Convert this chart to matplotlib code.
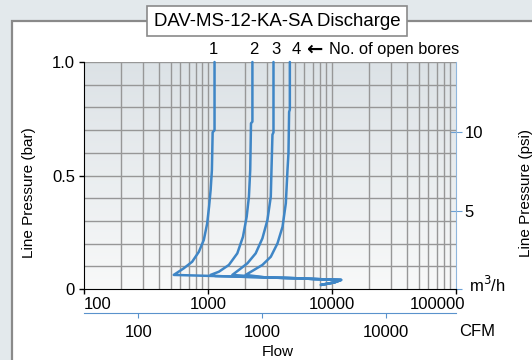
import numpy as np
import matplotlib.pyplot as plt
from matplotlib.patches import Rectangle
from matplotlib.colors import LinearSegmentedColormap

plt.rcParams['font.family'] = ['Liberation Sans', 'DejaVu Sans']

# flow in m3/h, line pressure in bar
bores = ['1', '2', '3', '4']
flow_1 = [1129, 1129, 1090, 1075, 1050, 1020, 985, 925, 844, 745, 637, 529]
bar_1 = [1.0, 0.70, 0.69, 0.524, 0.436, 0.363, 0.289, 0.216, 0.164, 0.120,
         0.091, 0.062]
flow_2 = [2281, 2281, 2222, 2190, 2138, 2051, 1914, 1723, 1474, 1223, 1048]
bar_2 = [1.0, 0.737, 0.73, 0.524, 0.407, 0.319, 0.230, 0.157, 0.106, 0.076,
         0.062]
flow_3 = [3374, 3374, 3310, 3250, 3209, 3015, 2746, 2424, 2077, 1775, 1570]
bar_3 = [1.0, 0.69, 0.68, 0.524, 0.407, 0.304, 0.223, 0.157, 0.113, 0.084,
         0.062]
flow_4 = [4571, 4571, 4510, 4456, 4375, 4243, 3990, 3634, 3209, 2746, 2350,
          2012]
bar_4 = [1.0, 0.79, 0.78, 0.598, 0.524, 0.378, 0.274, 0.201, 0.142, 0.106,
         0.084, 0.062]
# common low-pressure tail all curves run into
tail_flow = [1151, 2924, 5433, 7194, 11830, 10440, 8150]
tail_bar = [0.057, 0.051, 0.047, 0.044, 0.040, 0.029, 0.018]
label_flow = [1109, 2350, 3524, 5107]

xticks = [100, 1000, 10000, 100000]
xtick_labels = ['100', '1000', '10000', '100000']
cfm_ticks = [100, 1000, 10000]
psi_ticks = [0, 5, 10]
psi_labels = ['', '5', '10']
CFM_F = 2.74       # as drawn on the sheet
PSI_F = 14.5038

blue = '#3f86c6'
grid_c = '#979797'

fig = plt.figure(figsize=(5.32, 3.6), dpi=100)
fig.patch.set_facecolor('#e3e9ec')
fig.patches.append(Rectangle((12 / 532, -0.05), 1.0, 1 - 21 / 360 + 0.05,
                             transform=fig.transFigure, facecolor='white',
                             edgecolor='#8a8a8a', lw=1.6, zorder=-5))

pos = [84 / 532, 1 - 289 / 360, 372 / 532, 227 / 360]

# gradient behind the grid
bg = fig.add_axes(pos, zorder=0)
grad = np.linspace(0, 1, 256).reshape(-1, 1)
bg.imshow(grad, aspect='auto', extent=[0, 1, 0, 1], origin='lower',
          cmap=LinearSegmentedColormap.from_list('g', ['#f8f9f9', '#dce2e6']))
bg.axis('off')

ax = fig.add_axes(pos, zorder=1)
ax.set_facecolor('none')
ax.set_xscale('log')
ax.set_xlim(100, 100000)
ax.set_ylim(0, 1.0)

# grid
for dec in [100, 1000, 10000]:
    for m in range(1, 10):
        if dec * m > 100:
            ax.axvline(dec * m, color=grid_c, lw=1.0, zorder=1)
for yv in np.arange(0.1, 1.01, 0.1):
    ax.axhline(yv, color=grid_c, lw=1.0, zorder=1)

curves = [(flow_1, bar_1), (flow_2, bar_2), (flow_3, bar_3), (flow_4, bar_4)]
for fl, br in curves:
    tf = [f for i, f in enumerate(tail_flow) if f > fl[-1] or i >= 4]
    tb = tail_bar[len(tail_bar) - len(tf):]
    ax.plot(list(fl) + tf, list(br) + tb, color=blue, lw=1.8,
            solid_joinstyle='round', solid_capstyle='round', zorder=3,
            clip_on=False)

for lab, lf in zip(bores, label_flow):
    ax.text(lf, 1.057, lab, ha='center', va='center', fontsize=12,
            clip_on=False)
ax.text(0.597, 1.057, '\u2190', transform=ax.transAxes, ha='left',
        va='center', fontsize=14, fontweight='bold', family=['DejaVu Sans'])
ax.text(0.659, 1.057, 'No. of open bores', transform=ax.transAxes,
        ha='left', va='center', fontsize=11.8)

for s in ['top', 'right']:
    ax.spines[s].set_visible(False)
ax.set_xticks(xticks)
ax.set_xticklabels([''] * len(xticks))
ax.xaxis.set_minor_locator(plt.NullLocator())
ax.set_yticks([0, 0.5, 1.0])
ax.set_yticklabels(['0', '0.5', '1.0'])
ax.tick_params(axis='both', length=3.5, width=1, labelsize=12, pad=3)
# x labels: end labels pulled inward as on the sheet
shifts = [(0, 'left'), (0, 'center'), (0, 'center'), (9, 'right')]
for xv, lab, (dx, ha) in zip(xticks, xtick_labels, shifts):
    ax.annotate(lab, xy=(xv, 0), xytext=(dx, -8), textcoords='offset pixels',
                ha=ha, va='top', fontsize=12, annotation_clip=False)

# CFM axis
sec = ax.secondary_xaxis(-0.106, functions=(lambda v: v / CFM_F,
                                             lambda v: v * CFM_F))
sec.set_xticks(cfm_ticks)
sec.set_xticklabels(['100', '1000', '10000'])
sec.xaxis.set_minor_locator(plt.NullLocator())
sec.spines['bottom'].set_color('#5a92cc')
sec.tick_params(axis='x', colors='#5a92cc', labelcolor='black', length=3.5,
                labelsize=12, pad=5)
ax.text(1.008, -0.189, 'CFM', transform=ax.transAxes, ha='left',
        va='center', fontsize=12)

# psi axis
psi = ax.secondary_yaxis('right', functions=(lambda v: v * PSI_F,
                                             lambda v: v / PSI_F))
psi.set_yticks(psi_ticks)
psi.set_yticklabels(psi_labels)
psi.yaxis.set_minor_locator(plt.NullLocator())
psi.spines['right'].set_color('#8fb6dc')
psi.tick_params(axis='y', colors='#6a9fd4', labelcolor='black',
                direction='inout', length=8, labelsize=12, pad=2)
ax.text(1.035, 0.018, 'm$^3$/h', transform=ax.transAxes, ha='left',
        va='center', fontsize=12)

fig.text(29 / 532, 1 - 193 / 360, 'Line Pressure (bar)', rotation=90,
         ha='center', va='center', fontsize=11)
fig.text(526 / 532, 1 - 193 / 360, 'Line Pressure (psi)', rotation=90,
         ha='center', va='center', fontsize=11)
fig.text(278 / 532, 0.004, 'Flow', ha='center', va='bottom', fontsize=11)

fig.text(277 / 532, 1 - 21 / 360, 'DAV-MS-12-KA-SA Discharge', ha='center',
         va='center', fontsize=13.4,
         bbox=dict(boxstyle='square,pad=0.35', facecolor='white',
                   edgecolor='#8a8a8a', lw=1.2))

fig.savefig('out.png', dpi=100, facecolor=fig.get_facecolor())
